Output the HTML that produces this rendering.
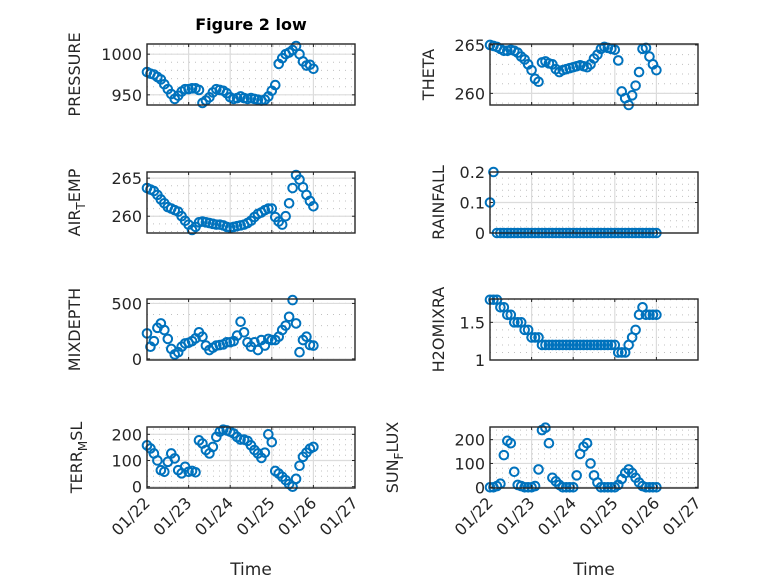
<!DOCTYPE html>
<html><head><meta charset="utf-8"><style>
html,body{margin:0;padding:0;background:#fff;}
svg{display:block;font-family:"DejaVu Sans","Liberation Sans",sans-serif;}
</style></head><body>
<svg id="fig" width="778" height="583" viewBox="0 0 778 583">
<rect width="778" height="583" fill="#fff"/>
<text x="251" y="30" text-anchor="middle" font-size="16" font-weight="bold" fill="#000">Figure 2 low</text>
</svg>
<script>
const tickDays = ["01/22","01/23","01/24","01/25","01/26","01/27"];
const pressure = [978,976,975,972,969,963,957,951,945,949,954,957,957,958,958,956,940,943,947,953,957,956,955,952,947,945,946,948,946,945,946,945,944,943,944,948,955,962,988,995,1000,1002,1005,1010,1000,991,986,987,982];
const theta = [265.0,264.9,264.8,264.6,264.4,264.4,264.5,264.4,264.2,263.8,263.5,263.0,262.4,261.5,261.2,263.2,263.3,263.1,263.0,262.5,262.2,262.4,262.5,262.6,262.7,262.8,262.9,262.8,262.7,263.0,263.6,264.0,264.6,264.8,264.7,264.6,264.5,263.4,260.2,259.5,258.8,259.8,260.8,262.2,264.6,264.7,263.8,263.0,262.4];
const airTemp = [263.7,263.5,263.3,262.8,262.2,261.7,261.2,261.0,260.8,260.6,260.0,259.4,258.9,258.2,258.6,259.2,259.3,259.2,259.1,259.0,258.9,258.9,258.8,258.6,258.5,258.6,258.7,258.8,258.9,259.1,259.4,259.9,260.3,260.5,260.8,261.0,261.0,259.9,259.3,258.9,260.0,261.7,263.7,265.4,264.8,263.8,262.8,262.0,261.3];
const rainfall = [0.1,0.2,0,0,0,0,0,0,0,0,0,0,0,0,0,0,0,0,0,0,0,0,0,0,0,0,0,0,0,0,0,0,0,0,0,0,0,0,0,0,0,0,0,0,0,0,0,0,0];
const mixDepth = [230,110,160,280,320,260,180,90,40,60,110,140,145,160,185,240,200,120,80,100,120,125,130,150,150,160,210,335,240,150,110,150,80,170,120,180,170,170,200,260,300,380,530,320,60,170,200,125,120];
const h2oMix = [1.8,1.8,1.8,1.7,1.7,1.6,1.6,1.5,1.5,1.5,1.4,1.4,1.3,1.3,1.3,1.2,1.2,1.2,1.2,1.2,1.2,1.2,1.2,1.2,1.2,1.2,1.2,1.2,1.2,1.2,1.2,1.2,1.2,1.2,1.2,1.2,1.2,1.1,1.1,1.1,1.2,1.3,1.4,1.6,1.7,1.6,1.6,1.6,1.6];
const terrMsl = [158,146,127,100,63,57,95,127,108,63,51,76,57,60,55,177,165,140,127,152,190,210,218,215,210,203,190,180,180,175,158,140,127,110,130,200,170,60,50,38,25,10,0,30,80,114,130,145,152];
const sunFlux = [0,0,5,15,135,195,185,65,10,5,0,0,0,5,75,240,250,185,40,25,10,0,0,0,0,50,140,170,185,100,50,20,0,0,0,0,0,10,35,60,75,60,40,20,5,0,0,0,0];

const NS="http://www.w3.org/2000/svg";
const svg=document.getElementById('fig');
function mk(tag,attrs,parent){const e=document.createElementNS(NS,tag);for(const k in attrs)e.setAttribute(k,attrs[k]);(parent||svg).appendChild(e);return e;}

const panels=[
 {key:'pressure',data:pressure,x0:147,y0:44,ymin:937.5,ymax:1012.5,ticks:[950,1000],minor:10,label:['PRESSURE'],lx:80,bottom:false},
 {key:'theta',data:theta,x0:490,y0:44,ymin:258.8,ymax:265.1,ticks:[260,265],minor:1,label:['THETA'],lx:434,bottom:false},
 {key:'air-temp',data:airTemp,x0:147,y0:172,ymin:257.8,ymax:265.8,ticks:[260,265],minor:1,label:['AIR','T','EMP'],lx:80,bottom:false},
 {key:'rainfall',data:rainfall,x0:490,y0:172,ymin:0,ymax:0.2,ticks:[0,0.1,0.2],minor:0.02,label:['RAINFALL'],lx:444,bottom:false},
 {key:'mixdepth',data:mixDepth,x0:147,y0:299,ymin:-10,ymax:540,ticks:[0,500],minor:100,label:['MIXDEPTH'],lx:80,bottom:false},
 {key:'h2omixra',data:h2oMix,x0:490,y0:299,ymin:1,ymax:1.81,ticks:[1,1.5],minor:0.1,label:['H2OMIXRA'],lx:444,bottom:false},
 {key:'terr-msl',data:terrMsl,x0:147,y0:427,ymin:-5,ymax:228,ticks:[0,100,200],minor:20,label:['TERR','M','SL'],lx:82,bottom:true},
 {key:'sun-flux',data:sunFlux,x0:490,y0:427,ymin:-3,ymax:253,ticks:[0,100,200],minor:20,label:['SUN','F','LUX'],lx:398,bottom:true}
];
const W=208,H=61,XMAX=5;

panels.forEach(p=>{
 const g=mk('g',{});
 
 
 const sx=d=>p.x0+d/XMAX*W;
 const sy=v=>p.y0+H-(v-p.ymin)/(p.ymax-p.ymin)*H;
 mk('rect',{x:p.x0,y:p.y0,width:W,height:H,fill:'#fff'},g);
 const start=Math.ceil(p.ymin/p.minor-1e-9);
 for(let k=start;k*p.minor<=p.ymax+1e-9;k++){
  const v=k*p.minor;const y=sy(v);
  mk('line',{x1:p.x0,x2:p.x0+W,y1:y,y2:y,stroke:'#c0c0c0','stroke-width':1,'stroke-dasharray':'1 5'},g);
 }
 for(let d=1;d<XMAX;d++){const x=sx(d);mk('line',{x1:x,x2:x,y1:p.y0,y2:p.y0+H,stroke:'#dcdcdc','stroke-width':1.2},g);}
 p.ticks.forEach(v=>{const y=sy(v);mk('line',{x1:p.x0,x2:p.x0+W,y1:y,y2:y,stroke:'#dcdcdc','stroke-width':1.2},g);});
 const mg=mk('g',{},g);
 
 
 p.data.forEach((v,i)=>{
  const c=mk('circle',{cx:sx(i/12),cy:sy(v),r:4.3,fill:'none',stroke:'#0072BD','stroke-width':2},mg);
  
  
 });
 mk('rect',{x:p.x0,y:p.y0,width:W,height:H,fill:'none',stroke:'#262626','stroke-width':1.4},g);
 for(let d=0;d<=XMAX;d++){const x=sx(d);
  mk('line',{x1:x,x2:x,y1:p.y0+H,y2:p.y0+H-3,stroke:'#262626'},g);
  mk('line',{x1:x,x2:x,y1:p.y0,y2:p.y0+3,stroke:'#262626'},g);}
 p.ticks.forEach(v=>{const y=sy(v);
  mk('line',{x1:p.x0,x2:p.x0+3,y1:y,y2:y,stroke:'#262626'},g);
  mk('line',{x1:p.x0+W,x2:p.x0+W-3,y1:y,y2:y,stroke:'#262626'},g);
  const t=mk('text',{x:p.x0-5,y:y+6,'text-anchor':'end','font-size':16,fill:'#262626'},g);
  t.textContent=String(v);
  
  
 });
 const cy=p.y0+H/2;
 const yl=mk('text',{x:p.lx,y:cy,'text-anchor':'middle','font-size':16,fill:'#262626',transform:`rotate(-90 ${p.lx} ${cy})`},g);
 
 
 if(p.label.length===1){yl.textContent=p.label[0];}
 else{
  const a=mk('tspan',{},yl);a.textContent=p.label[0];
  const b=mk('tspan',{'font-size':12,dy:5},yl);b.textContent=p.label[1];
  const c=mk('tspan',{dy:-5},yl);c.textContent=p.label[2];
 }
 if(p.bottom){
  tickDays.forEach((s,d)=>{
   const x=sx(d),y=p.y0+H+8;
   const t=mk('text',{x:x+4,y:y+8,'text-anchor':'end','font-size':16,fill:'#262626',transform:`rotate(-45 ${x+4} ${y+8})`},g);
   t.textContent=s;
   
   
  });
  const xt=mk('text',{x:p.x0+W/2,y:575,'text-anchor':'middle','font-size':17,fill:'#262626'},g);
  xt.textContent='Time';
  
  
 }
});
</script>
</body></html>
